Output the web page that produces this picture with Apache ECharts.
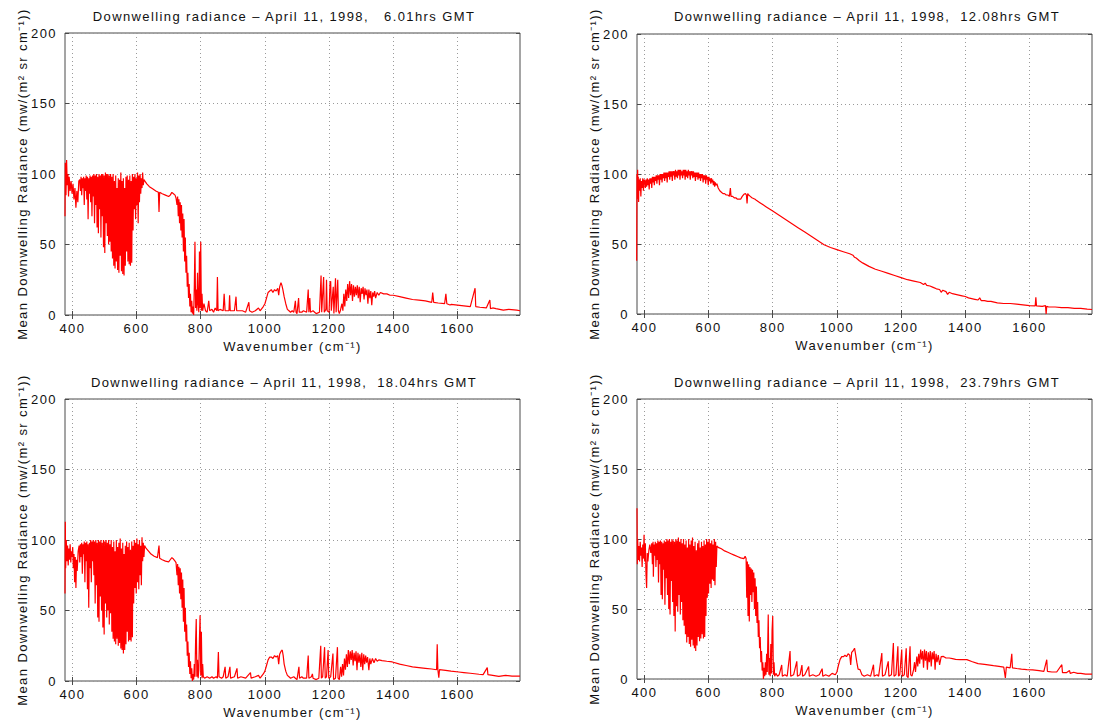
<!DOCTYPE html>
<html>
<head>
<meta charset="utf-8">
<script src="https://cdn.jsdelivr.net/npm/echarts@6/dist/echarts.min.js"></script>
<style>
html, body { margin: 0; padding: 0; background: #ffffff; }
#chart { width: 1093px; height: 724px; }
#chart svg text { letter-spacing: 1.4px; white-space: pre; }
</style>
</head>
<body>
<div id="chart"></div>
<script>
// ---------- tick labels / text ----------
const xTickValues = [400, 600, 800, 1000, 1200, 1400, 1600];
const yTickValues = [0, 50, 100, 150, 200];
const titles = [
  'Downwelling radiance \u2013 April 11, 1998,   6.01hrs GMT',
  'Downwelling radiance \u2013 April 11, 1998,  12.08hrs GMT',
  'Downwelling radiance \u2013 April 11, 1998,  18.04hrs GMT',
  'Downwelling radiance \u2013 April 11, 1998,  23.79hrs GMT'
];
const xName = 'Wavenumber (cm\u207B\u00B9)';
const yName = 'Mean Downwelling Radiance (mw/(m\u00B2 sr cm\u207B\u00B9))';

// ---------- panel 1 : 6.01 hrs GMT ----------
const wn1 = [377,378,380,382,384,386,388,390,393,396,399,402,405,408,411,414,417,420,
423,425,427,429,431,433,435,437,439,441,443,445,447,449,451,453,455,457,459,461,463,465,467,469,471,473,475,477,479,481,483,485,487,489,491,493,495,497,499,501,503,505,507,509,511,513,515,517,519,521,523,525,527,529,531,533,535,537,539,541,543,545,547,549,551,553,555,557,559,561,563,565,567,569,571,573,575,577,579,581,583,585,587,589,591,593,595,597,599,601,603,605,607,609,611,613,615,617,619,621,623,
626,632,640,650,660,668,670,672,680,690,700,705,710,715,720,
723,726,728,730,732,734,736,738,740,742,744,746,748,750,752,754,756,758,760,762,764,766,768,770,772,774,776,778,780,782,784,786,788,790,792,794,796,798,800,802,804,806,810,815,820,825,828,835,840,845,850,852,854,860,870,873,876,888,890,892,905,910,912,930,940,950,952,960,970,980,985,995,
1000,1005,1010,1015,1020,1025,1030,1035,1040,1043,1046,1050,1053,1056,1060,1065,1070,1075,1080,
1085,1090,1095,1097,1100,1105,1107,1115,1120,1130,1135,1137,1140,1142,1150,1155,1160,1170,1175,1177,1183,1185,1190,1192,1194,1200,1203,1205,1207,1213,1215,1220,1222,1227,1229,1232,1235,
1240,1243,1246,1249,1252,1255,1258,1261,1264,1267,1270,1273,1276,1279,1282,1285,1288,1291,1294,1297,1300,1303,1306,1309,1312,1315,1318,1321,1324,1327,1330,1333,1336,1339,1342,1345,1350,1355,1360,1370,1380,1390,1400,1420,1440,1460,1480,1500,1520,1523,1526,1540,1560,1564,1567,1577,1580,1600,1620,1640,1655,1657,1670,1690,1701,1703,1710,1720,1743,1760,1785,1795];
const rad1 = [70,108,85,110,92,100,84,98,88,95,86,93,82,90,76,88,80,95,
96,88,98,85,97,90,98,78,97,88,99,82,98,68,97,86,99,80,98,70,99,84,100,65,99,78,100,62,98,58,100,75,99,55,100,70,100,48,99,44,101,65,100,56,100,50,99,52,100,45,98,40,100,35,95,33,99,38,90,32,97,30,96,42,101,31,95,29,97,28,90,35,98,45,99,38,96,36,99,35,95,37,100,60,98,75,100,68,97,78,101,65,99,80,100,86,97,90,101,92,96,
95,93,91,89.5,88,87,73,87,86,85,84,85,87,86,85,
83,78,84,70,82,65,80,60,78,55,72,45,68,38,55,30,42,20,30,12,22,6,15,2,10,1,6,0,20,52,5,18,3,30,8,2,45,5,52,3,15,3,8,3,2,10,3,4,2,5,3,27,3,4,3,15,3,3,14,3,3,13,3,3,2,9,3,2,3,5,3,6,
8,12,16,17,18,16,18,17,19,14,20,23,21,18,13,8,4,3,2,
3,2,10,2,1,12,2,2,3,2,18,2,12,2,3,2,1,2,28,2,27,2,4,25,3,2,23,24,3,20,1,26,2,25,3,1,3,
8,3,15,6,18,10,22,12,24,14,22,10,21,13,20,14,21,12,20,9,19,15,20,11,19,14,18,8,18,12,17,7,16,13,17,12,16,14,16,15,15,14,14,13,12,11,10.5,10,9,16,9,8.5,8,15,8,7.1,7.5,7,6.5,6,19,6,5.5,5,10.6,4.5,5,4.5,3.5,4,3.5,3];

// ---------- panel 2 : 12.08 hrs GMT ----------
const wn2 = [376,377,378,379,380,381,382,383,385,387,389,391,393,395,397,399,
401,403,405,407,409,411,413,415,417,419,421,423,425,427,429,431,433,435,437,439,441,443,445,447,449,451,453,455,457,459,461,463,465,467,469,471,473,475,477,479,481,483,485,487,489,491,493,495,497,499,501,503,505,507,509,511,513,515,517,519,521,523,525,527,529,531,533,535,537,539,541,543,545,547,549,551,553,555,557,559,561,563,565,567,569,571,573,575,577,579,581,583,585,587,589,591,593,595,597,599,601,603,605,607,609,611,613,615,617,619,621,623,626,
630,635,640,645,650,655,660,665,668,670,675,680,685,690,695,700,705,710,715,718,720,722,725,730,735,740,745,750,760,770,780,790,800,820,840,860,880,900,920,940,960,980,1000,1020,1040,1050,1055,1060,1070,1080,1100,1120,1140,1160,1180,1200,1220,1240,1260,1270,1275,1280,1290,1300,1310,1320,1325,1330,1340,1345,1350,1360,1370,1380,1390,1400,1410,1420,1430,1440,1445,1450,1460,1470,1480,1490,1500,1520,1540,1560,1580,1600,1618,1620,1622,1640,1650,1652,1654,1660,1680,1700,1720,1740,1760,1780,1795];
const rad2 = [38,100,82,103,85,98,80,96,88,97,84,95,90,97,88,96,
95,90,96,91,97,92,96,89,97,93,97,90,98,94,98,92,98,95,99,93,99,96,99,92,100,96,100,94,100,97,101,95,101,97,101,94,101,98,102,96,102,98,102,95,102,99,102,96,103,98,102,97,103,99,103,96,103,99,102,97,103,99,103,96,103,98,102,97,103,99,102,96,102,99,102,97,102,98,101,95,101,98,101,96,101,97,100,95,100,97,100,94,99,96,99,93,99,96,98,92,98,95,97,93,97,94,96,92,95,91,94,92,93,
90,88,87,86,86,85,85,84,90,84,84,83,83,82,82,82,84,85.5,86,85,79,86,85,84,83,82.5,82,81,79.5,78,76.5,75,73.5,70.5,67.5,64.5,61.5,58.5,55.5,52.5,49.5,47.5,46,44.5,43,42,40.5,40,38,36.5,34,32,30.5,29,27.5,26,24.5,23.5,22.5,21,22,20.5,20,19,18,17.5,15.5,17,16,14,15.5,14.5,14,13.5,13,12.5,11.5,11,10.5,10,11.5,9.5,9.5,9,9,8.5,8,7.5,7.5,7,6.5,6,5.8,12,5.8,5.5,6,0,5.5,5,5,4.5,4.5,4,4,3.5,3.2];

// ---------- panel 3 : 18.04 hrs GMT ----------
const wn3 = [377,378,379,381,383,385,387,389,391,393,395,397,399,401,403,405,407,409,411,413,415,418,421,423,425,427,429,431,433,435,437,439,441,443,445,447,449,451,453,455,457,459,461,463,465,467,469,471,473,475,477,479,481,483,485,487,489,491,493,495,497,499,501,503,505,507,509,511,513,515,517,519,521,523,525,527,529,531,533,535,537,539,541,543,545,547,549,551,553,555,557,559,561,563,565,567,569,571,573,575,577,579,581,583,585,587,589,591,593,595,597,599,601,603,605,607,609,611,613,615,617,619,621,623,625,
630,638,645,655,665,670,672,680,690,700,705,710,715,720,
723,726,728,730,732,734,736,738,740,742,744,746,748,750,752,754,756,758,760,762,764,766,768,770,772,774,776,778,780,782,784,786,788,790,792,794,796,798,800,802,804,806,808,812,820,828,835,840,848,852,855,857,865,870,876,878,885,891,893,905,913,915,925,940,955,957,970,980,985,995,
1000,1005,1010,1015,1020,1025,1030,1035,1040,1043,1046,1050,1054,1057,1060,1065,1070,1075,
1080,1090,1095,1100,1106,1108,1115,1120,1130,1135,1137,1145,1148,1150,1160,1168,1174,1176,1180,1186,1188,1192,1197,1199,1205,1212,1214,1220,1226,1228,1232,1236,1239,1242,1245,1248,1251,1254,1257,1260,1263,1266,1269,1272,1275,1278,1281,1284,1287,1290,1293,1296,1299,1302,1305,1308,1311,1314,1317,1320,1324,1327,1330,1335,1340,1345,1350,1355,1365,1380,1397,1420,1440,1460,1480,1500,1520,1535,1537,1539,1542,1544,1563,1580,1604,1620,1640,1667,1680,1693,1695,1710,1729,1750,1770,1795];
const rad3 = [62,113,80,100,85,96,82,94,86,97,84,92,88,95,80,90,70,88,66,86,78,92,96,84,97,88,98,76,97,90,99,70,98,85,99,65,97,52,98,80,100,70,99,85,100,75,99,55,100,68,98,45,100,42,99,60,100,50,98,38,100,33,99,55,100,45,98,50,100,40,97,48,100,35,95,30,99,28,92,26,100,30,95,25,98,27,101,23,94,22,98,19.5,90,22,96,26,99,35,95,28,98,29,93,28,99,31,96,55,100,66,98,62,101,70,97,65,100,75,96,68,102,85,98,88,96,
94,92,90,88.5,87.5,96,87,86,85,84.5,86,87.5,86.5,85,
84,75,83,68,81,62,80,58,77,52,72,42,66,35,52,28,40,18,28,10,20,5,14,2,9,0,5,1,12,3,28,44,3,15,2,8,30,46.6,4,35,2,12,3,2,3,2,3,2,3,2,20.6,3,2,3,10,2,3,10,2,3,9,2,3,2,6,2,3,4,2,5,
7,11,15,17,17,16,18,17,18,12,19,21,22,18,12,7,4,3,
2,3,2,1,10,2,3,2,2,18,2,3,5,2,1,2,25,2,3,24,2,3,22,2,3,19.5,1,2,24,2,1,10,3,12,4,16,8,19,10,22,12,21,15,22,11,20,14,21,7.6,20,13,19,10,20,7.6,19,12,18,13,17,7.6,16,12,16,13,16,14,15,14.5,14,13.5,12,11,10,9.5,9,8.5,8,26,8,2.4,8,7.6,7,6.4,6,5.5,4.8,4.5,9.5,4.5,4,3.3,4,3.5,3.5];

// ---------- panel 4 : 23.79 hrs GMT ----------
const wn4 = [377,378,379,381,383,385,387,389,391,393,395,397,399,401,403,405,407,409,411,414,417,420,423,425,427,428,430,432,434,436,438,440,442,444,446,448,450,452,454,456,458,460,462,464,466,468,470,472,474,476,478,480,482,484,486,488,490,492,494,496,498,500,502,504,506,508,510,512,514,516,518,520,522,524,526,528,530,532,534,536,538,540,542,544,546,548,550,552,554,556,558,560,562,564,566,568,570,572,574,576,578,580,582,584,586,588,590,592,594,596,598,600,602,604,606,608,610,612,614,616,618,620,622,624,626,
630,640,650,660,670,680,690,700,710,714,717,719,721,723,725,727,729,731,733,735,737,739,741,743,745,747,749,751,753,755,757,759,761,763,765,767,769,771,773,775,777,779,781,783,786,788,790,792,794,796,798,800,802,804,806,810,815,820,828,830,838,845,854,856,865,875,877,885,891,893,900,912,914,925,935,945,954,956,965,975,985,995,
1000,1005,1010,1015,1021,1025,1030,1035,1040,1043,1046,1050,1055,1058,1062,1066,1072,1078,1085,1095,1105,1114,1116,1125,1130,1140,1142,1150,1160,1162,1170,1176,1178,1184,1190,1192,1196,1202,1204,1210,1216,1218,1222,1228,1230,1234,1239,1242,1245,1249,1252,1255,1258,1261,1264,1267,1270,1273,1276,1279,1282,1285,1288,1291,1294,1297,1300,1303,1306,1309,1312,1316,1320,1325,1332,1340,1350,1360,1370,1384,1405,1420,1440,1460,1488,1505,1520,1525,1528,1540,1545,1547,1560,1575,1592,1610,1630,1645,1654,1656,1670,1685,1701,1703,1715,1725,1727,1738,1750,1760,1775,1790,1795];
const rad4 = [122,82,100,85,95,84,98,88,94,80,96,86,103,84,97,75,65,90,84,92,96,90,97,82,98,73,96,88,98,80,97,85,99,69,98,82,99,60,98,57,97,78,99,53,98,72,100,60,99,50,100,46,98,70,100,55,99,45,98,34,100,52,99,48,101,60,98,46,100,55,97,42,100,38,96,32,99,26,94,30,100,25,96,23,99,28,101,24,95,22,98,20,92,24,97,30,99,27,94,29,98,32,95,29,99,30,96,45,100,58,98,61,100,68,97,65,99,71,96,70,100,67,98,80,95,
94,93,91.5,90.5,89.5,88.5,87.5,86.5,86,87.6,86,58,84,45,82,41,80,60,79,55,78,62,76,50,72,45,66,40,55,30,42,22,30,12,20,6,12,0,8,2,12,3,18,5,46,3,15,2,25,4,35,45,3,12,2,4,2,3,10,2,3,2,20,2,3,12.6,2,3,10,2,3,8.9,2,3,2,3,7.4,2,3,2,4,3,
5,10,14,16,16,17,16,18,17,10,19,20,22,18,12,7,6.7,3,2,3,2,10.2,2,3,2,18.5,2,3,12.6,2,3,25.7,2,3,23.3,2,3,21,2,3,22,2,1,23.3,3,2,6.7,12,5,16,9,18,11,21,14,20,8,21,13,20,6.7,19,12,20,9,19,14,20,6.7,18,12,17,10,16,16.1,15,15,14.5,14,13.8,13.8,12.5,11,10.5,9.5,9,8.5,0.7,8.5,8,18,8,7.5,7,6.7,6.5,6,5.5,13.8,5.5,5,5,10.2,4.5,4.5,6,4,4.8,4,4,3.5,3.5,3.5];

const series_x = [wn1, wn2, wn3, wn4];
const series_y = [rad1, rad2, rad3, rad4];

// ---------- layout ----------
const panels = [
  { left: 65,  top: 33,  width: 455, height: 282, titleX: 284, titleY: 16 },
  { left: 637, top: 34,  width: 455, height: 280, titleX: 867, titleY: 16 },
  { left: 65,  top: 399, width: 455, height: 282, titleX: 284, titleY: 382 },
  { left: 637, top: 399, width: 455, height: 280, titleX: 867, titleY: 382 }
];
const FONT = 'Liberation Sans, Arial, Helvetica, sans-serif';
const FS = 13;
const TXT = '#111111';
const FRAME = '#4a4a4a';
const XMIN = 377, XMAX = 1795;

const grids = [], xAxes = [], yAxes = [], series = [], graphics = [];
panels.forEach((p, i) => {
  grids.push({ left: p.left, top: p.top, width: p.width, height: p.height,
    show: true, borderColor: FRAME, borderWidth: 1, containLabel: false });
  xAxes.push({
    gridIndex: i, type: 'value', position: 'bottom', min: XMIN, max: XMAX,
    axisLine: { show: false },
    axisTick: { show: true, inside: true, length: 4, customValues: xTickValues, lineStyle: { color: FRAME } },
    axisLabel: { show: true, customValues: xTickValues, margin: 7, color: TXT, fontSize: FS, fontFamily: FONT,
      formatter: v => String(v) },
    splitLine: { show: true, lineStyle: { color: '#9a9a9a', width: 1, type: [1, 3] } },
    name: xName, nameLocation: 'middle', nameGap: 25,
    nameTextStyle: { color: TXT, fontSize: FS, fontFamily: FONT }
  });
  xAxes.push({
    gridIndex: i, type: 'value', position: 'top', min: XMIN, max: XMAX,
    axisLine: { show: false },
    axisTick: { show: true, inside: true, length: 4, customValues: xTickValues, lineStyle: { color: FRAME } },
    axisLabel: { show: false }, splitLine: { show: false }
  });
  yAxes.push({
    gridIndex: i, type: 'value', position: 'left', min: 0, max: 200, interval: 50,
    axisLine: { show: false },
    axisTick: { show: true, inside: true, length: 4, lineStyle: { color: FRAME } },
    axisLabel: { show: true, margin: 8, color: TXT, fontSize: FS, fontFamily: FONT },
    splitLine: { show: true, lineStyle: { color: '#9a9a9a', width: 1, type: [1, 3] } },
    name: yName, nameLocation: 'middle', nameGap: 36,
    nameTextStyle: { color: TXT, fontSize: FS, fontFamily: FONT }
  });
  yAxes.push({
    gridIndex: i, type: 'value', position: 'right', min: 0, max: 200, interval: 50,
    axisLine: { show: false },
    axisTick: { show: true, inside: true, length: 4, lineStyle: { color: FRAME } },
    axisLabel: { show: false }, splitLine: { show: false }
  });
  const xs = series_x[i], ys = series_y[i];
  series.push({
    type: 'line', xAxisIndex: 2 * i, yAxisIndex: 2 * i,
    data: xs.map((x, k) => [x, ys[k]]),
    showSymbol: false, symbol: 'none',
    lineStyle: { color: '#ff0000', width: 1.2 },
    itemStyle: { color: '#ff0000' },
    animation: false, silent: true, clip: true
  });
  graphics.push({
    type: 'text', x: p.titleX, y: p.titleY,
    style: { text: titles[i], textAlign: 'center', textVerticalAlign: 'middle',
      font: FS + 'px ' + FONT, fill: TXT }
  });
});

const chart = echarts.init(document.getElementById('chart'), null, { renderer: 'svg' });
chart.setOption({
  backgroundColor: '#ffffff',
  animation: false,
  grid: grids,
  xAxis: xAxes,
  yAxis: yAxes,
  series: series,
  graphic: graphics
});
</script>
</body>
</html>
